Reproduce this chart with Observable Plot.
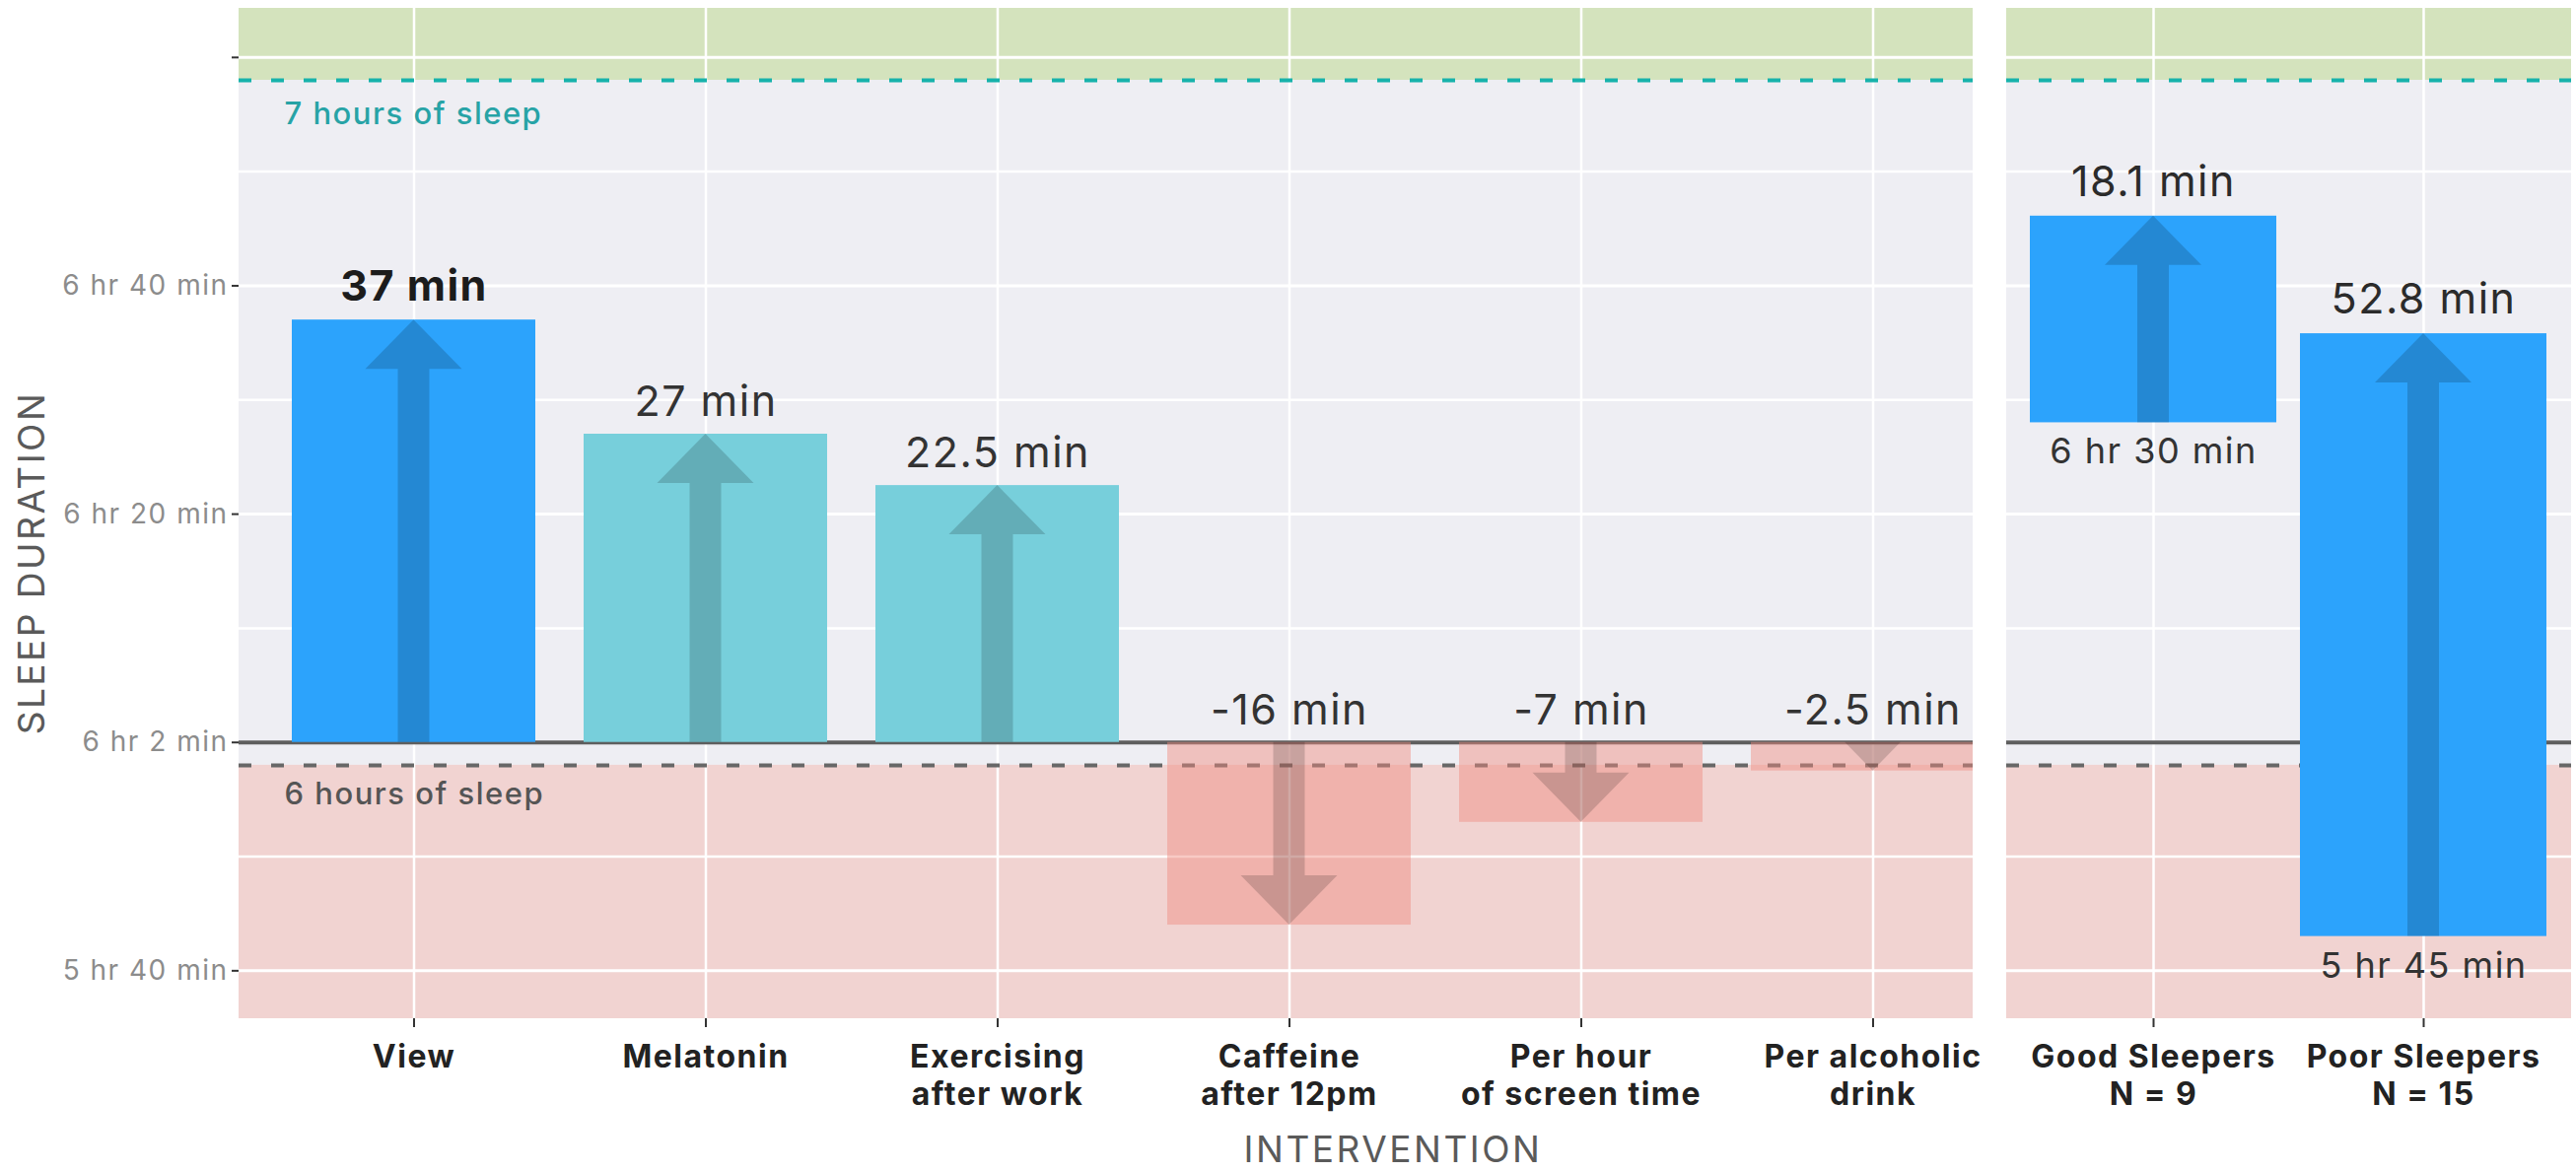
<!DOCTYPE html>
<html>
<head>
<meta charset="utf-8">
<script src="https://cdn.jsdelivr.net/npm/d3@7"></script>
<script src="https://cdn.jsdelivr.net/npm/@observablehq/plot@0.6"></script>
<style>
  html, body { margin: 0; padding: 0; background: #fff; }
  #chart { position: relative; width: 2613px; height: 1189px; overflow: hidden; font-family: Inter, "Noto Sans", sans-serif; }
  #chart svg { position: absolute; top: 0; max-width: none; }
  .axis-title { position: absolute; color: #5a5a5a; font-size: 37px; line-height: 0.9; white-space: nowrap; letter-spacing: 2.5px; }
</style>
</head>
<body>
<div id="chart"></div>
<script>
// ---- Data -------------------------------------------------------------
// Interventions: change in nightly sleep (minutes) from the 6 hr 2 min baseline
const interventions = ["View", "Melatonin", "Exercising\nafter work", "Caffeine\nafter 12pm", "Per hour\nof screen time", "Per alcoholic\ndrink"];
const interventionChange = [37, 27, 22.5, -16, -7, -2.5];
const interventionKind = ["view", "other", "other", "other", "other", "other"];
const baselineMinutes = 362; // 6 hr 2 min

// Sleeper groups: starting sleep (minutes) and gain
const groups = ["Good Sleepers\nN = 9", "Poor Sleepers\nN = 15"];
const groupStart = [390, 345];   // 6 hr 30 min, 5 hr 45 min
const groupChange = [18.1, 52.8];

// Reference thresholds (minutes of sleep)
const sixHours = 360;
const sevenHours = 420;
const sixHoursLabel = "6 hours of sleep";
const sevenHoursLabel = "7 hours of sleep";

// Y axis
const yDomain = [337.8, 426.3];
const yTicks = [342, 362, 382, 402, 422];
const yTickLabels = ["5 hr 40 min", "6 hr 2 min", "6 hr 20 min", "6 hr 40 min", ""];

// ---- Tables ---------------------------------------------------------------
const left = interventions.map((name, i) => ({
  name,
  start: baselineMinutes,
  end: baselineMinutes + interventionChange[i],
  change: interventionChange[i],
  kind: interventionKind[i]
}));
const right = groups.map((name, i) => ({
  name,
  start: groupStart[i],
  end: groupStart[i] + groupChange[i],
  change: groupChange[i]
}));

// ---- Style ----------------------------------------------------------------
const H = 1189, MT = 8, MB = 156;
const panelH = H - MT - MB;
const LEFT_W = 2034, LEFT_ML = 242, LEFT_MR = 33;   // left panel frame spans 242..2001
const leftPanelW = LEFT_W - LEFT_ML - LEFT_MR;
const C = {
  panel: "#eeeef3", green: "#d4e3bd", pink: "#f1d3d1",
  blue: "#2ca3fc", teal: "#77cfdb", salmon: "#f08a7e",
  teal7: "#17b2ab", grey6: "#676767", base: "#5e5e5e"
};
const minorGrid = d3.pairs(yTicks).map(([a, b]) => (a + b) / 2);
const fmtMin = v => `${v} min`;
const fmtHM = v => `${Math.floor(v / 60)} hr ${Math.round(v % 60)} min`;

// Arrow drawn through the plot's own scales: shaft plus head, one polygon
const SHAFT = 32, HEAD_W = 98, HEAD_L = 50;
function arrows(rows) {
  return (index, scales) => {
    const {x, y} = scales;
    const bw = typeof x.bandwidth === "function" ? x.bandwidth() : (x.bandwidth || 0);
    const g = d3.create("svg:g");
    for (const r of rows) {
      const cx = x(r.name) + bw / 2;
      const y0 = y(r.start), y1 = y(r.end);
      const dir = Math.sign(y1 - y0);
      const len = Math.abs(y1 - y0);
      let pts;
      if (len > HEAD_L) {
        const yh = y1 - dir * HEAD_L;
        pts = [[cx - SHAFT / 2, y0], [cx - SHAFT / 2, yh], [cx - HEAD_W / 2, yh], [cx, y1],
               [cx + HEAD_W / 2, yh], [cx + SHAFT / 2, yh], [cx + SHAFT / 2, y0]];
      } else {
        const w = HEAD_W * len / HEAD_L;
        pts = [[cx - w / 2, y0], [cx, y1], [cx + w / 2, y0]];
      }
      g.append("path")
        .attr("d", "M" + pts.map(p => p.join(",")).join("L") + "Z")
        .attr("fill", "#000")
        .attr("fill-opacity", 0.16);
    }
    return g.node();
  };
}

// Shared panel background: bands, white grid, threshold lines
function panelBackground(rows) {
  return [
    Plot.rect([0], {y1: yDomain[0], y2: yDomain[1], fill: C.panel}),
    Plot.rect([0], {y1: sevenHours, y2: yDomain[1], fill: C.green}),
    Plot.rect([0], {y1: yDomain[0], y2: sixHours, fill: C.pink}),
    Plot.ruleY(minorGrid, {y: d => d, stroke: "#fff", strokeWidth: 2.5}),
    Plot.ruleY(yTicks, {y: d => d, stroke: "#fff", strokeWidth: 3}),
    Plot.ruleX(rows, {x: "name", stroke: "#fff", strokeWidth: 2.5}),
    Plot.ruleY([sevenHours], {y: d => d, stroke: C.teal7, strokeWidth: 4, strokeDasharray: "13,20"}),
    Plot.ruleY([sixHours], {y: d => d, stroke: C.grey6, strokeWidth: 4, strokeDasharray: "13,20"}),
    Plot.ruleY([baselineMinutes], {y: d => d, stroke: C.base, strokeWidth: 4}),
    // x tick marks under the panel
    Plot.ruleX(rows, {x: "name", insetTop: panelH, insetBottom: -9, stroke: "#333", strokeWidth: 2}),
    // x tick labels
    Plot.text(rows, {x: "name", text: "name", frameAnchor: "bottom", lineAnchor: "top", dy: 23,
      lineHeight: 1.17, fontSize: 32, fontWeight: 700, fill: "#222"})
  ];
}

const font = {fontFamily: "Inter, 'Noto Sans', sans-serif", background: "transparent", overflow: "hidden", letterSpacing: "1.5px"};

// ---- Left panel: interventions ---------------------------------------------
const leftPlot = Plot.plot({
  width: LEFT_W, height: H,
  marginLeft: LEFT_ML, marginRight: LEFT_MR, marginTop: MT, marginBottom: MB,
  style: font,
  x: {type: "band", domain: interventions, range: [269.8, 2048.2], paddingInner: 0.167, paddingOuter: 0.0835, axis: null},
  y: {domain: yDomain, axis: null},
  marks: [
    ...panelBackground(left),
    Plot.barY(left, {filter: d => d.kind === "view", x: "name", y1: "start", y2: "end", fill: C.blue, clip: true}),
    Plot.barY(left, {filter: d => d.kind !== "view" && d.change > 0, x: "name", y1: "start", y2: "end", fill: C.teal, clip: true}),
    Plot.barY(left, {filter: d => d.change < 0, x: "name", y1: "start", y2: "end", fill: C.salmon, fillOpacity: 0.45, clip: true}),
    arrows(left),
    // value labels
    Plot.text(left, {filter: d => d.kind === "view", x: "name", y: "end", text: d => fmtMin(d.change),
      dy: -33, fontSize: 43, fontWeight: 700, fill: "#1c1c1c"}),
    Plot.text(left, {filter: d => d.kind !== "view", x: "name", y: d => Math.max(d.start, d.end), text: d => fmtMin(d.change),
      dy: -32, fontSize: 43, fill: "#333"}),
    // threshold captions
    Plot.text([sevenHours], {y: d => d, text: () => sevenHoursLabel, frameAnchor: "left", textAnchor: "start",
      dx: 46, dy: 35, fontSize: 31, fontWeight: 500, fill: "#27a3a6"}),
    Plot.text([sixHours], {y: d => d, text: () => sixHoursLabel, frameAnchor: "left", textAnchor: "start",
      dx: 46, dy: 30, fontSize: 31, fontWeight: 500, fill: "#555"}),
    // y axis ticks and labels
    Plot.ruleY(yTicks, {y: d => d, insetLeft: -7, insetRight: leftPanelW, stroke: "#333", strokeWidth: 2}),
    Plot.text(yTicks, {y: d => d, text: (d, i) => yTickLabels[i], frameAnchor: "left", textAnchor: "end",
      dx: -11, fontSize: 28, fill: "#8c8c8c"})
  ]
});

// ---- Right panel: sleeper groups --------------------------------------------
const rightPlot = Plot.plot({
  width: 573, height: H,
  marginLeft: 0, marginRight: 0, marginTop: MT, marginBottom: MB,
  style: font,
  x: {type: "band", domain: groups, range: [0, 573], paddingInner: 0.087, paddingOuter: 0.0854, axis: null},
  y: {domain: yDomain, axis: null},
  marks: [
    ...panelBackground(right),
    Plot.barY(right, {x: "name", y1: "start", y2: "end", fill: C.blue, clip: true}),
    arrows(right),
    Plot.text(right, {x: "name", y: "end", text: d => fmtMin(d.change), dy: -34, fontSize: 43, fill: "#2b2b2b"}),
    Plot.text(right, {x: "name", y: "start", text: d => fmtHM(d.start), dy: 30, fontSize: 36, fill: "#333"})
  ]
});

const chart = document.getElementById("chart");
leftPlot.style.left = "0px";
rightPlot.style.left = "2035px";
chart.appendChild(leftPlot);
chart.appendChild(rightPlot);

// Axis titles
const xTitle = document.createElement("div");
xTitle.className = "axis-title";
xTitle.textContent = "INTERVENTION";
xTitle.style.left = "1413px";
xTitle.style.top = "1166px";
xTitle.style.transform = "translate(-50%, -50%)";
chart.appendChild(xTitle);

const yTitle = document.createElement("div");
yTitle.className = "axis-title";
yTitle.textContent = "SLEEP DURATION";
yTitle.style.left = "32px";
yTitle.style.top = "571px";
yTitle.style.transform = "translate(-50%, -50%) rotate(-90deg)";
chart.appendChild(yTitle);
</script>
</body>
</html>
